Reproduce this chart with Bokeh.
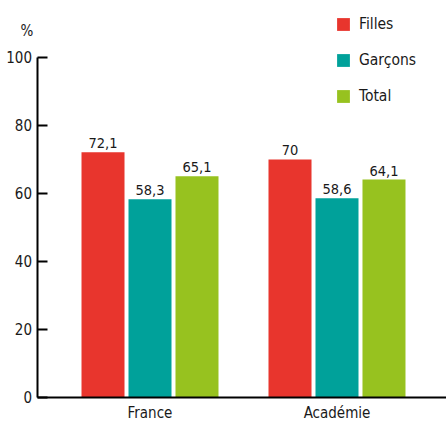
from bokeh.plotting import figure
from bokeh.models import Range1d, FixedTicker, Legend, LegendItem, ColumnDataSource
from bokeh.transform import dodge
from bokeh.core.properties import value
from bokeh.embed import file_html
from bokeh.resources import INLINE

categories = ["France", "Académie"]
series = ["Filles", "Garçons", "Total"]
filles = [72.1, 70.0]
garcons = [58.3, 58.6]
total = [65.1, 64.1]
colors = ["#E8352D", "#00A19A", "#97C21F"]
yticks = [0, 20, 40, 60, 80, 100]

FONT = "DejaVu Sans Condensed"
TXT = "#1a1a1a"

def fmt(v):
    return f"{v:g}".replace(".", ",")

idx = list(range(len(categories)))
src = ColumnDataSource(dict(
    x=idx,
    Filles=filles, Garçons=garcons, Total=total,
    Filles_lbl=[fmt(v) for v in filles],
    Garçons_lbl=[fmt(v) for v in garcons],
    Total_lbl=[fmt(v) for v in total],
))

X0, X1 = -0.7995, 1.5856
YAXIS_X = -0.599

p = figure(
    width=446, height=421,
    x_range=Range1d(X0, X1),
    y_range=Range1d(-7.06, 116.76),
    output_backend="svg", toolbar_location=None,
    min_border_left=0, min_border_right=0, min_border_top=0, min_border_bottom=0,
)
p.outline_line_color = None
p.xgrid.grid_line_color = None
p.ygrid.grid_line_color = None
p.background_fill_color = "white"
p.border_fill_color = "white"

offsets = [-0.2513, 0.0, 0.2513]
items = []
for name, col, off in zip(series, colors, offsets):
    r = p.vbar(x=dodge("x", off), top=name, bottom=0, width=0.23,
               source=src, fill_color=col, line_color=None)
    items.append(LegendItem(label=name, renderers=[r]))
    p.text(x=dodge("x", off), y=name, text=name + "_lbl", source=src,
           text_align="center", text_baseline="alphabetic", y_offset=-9,
           text_font=value(FONT), text_font_size="14.5px", text_color=TXT)

legend = Legend(items=items, location=(335, 316), orientation="vertical",
                glyph_width=16, glyph_height=16, label_height=16, spacing=18,
                padding=0, margin=0, label_standoff=8,
                label_text_font=FONT, label_text_font_size="15.5px", label_text_color=TXT,
                border_line_color=None, background_fill_alpha=0)
p.add_layout(legend, "center")

ya = p.yaxis[0]
ya.fixed_location = YAXIS_X
ya.bounds = (0, 100)
ya.ticker = FixedTicker(ticks=yticks)
ya.minor_tick_line_color = None
ya.major_tick_in = 10
ya.major_tick_out = 0
ya.major_tick_line_width = 2
ya.axis_line_width = 2
ya.major_label_standoff = 6
ya.major_label_text_font = FONT
ya.major_label_text_font_size = "15px"
ya.major_label_text_color = TXT

xa = p.xaxis[0]
xa.fixed_location = 0
xa.bounds = (YAXIS_X, X1)
xa.ticker = FixedTicker(ticks=idx)
xa.major_label_overrides = {i: c for i, c in zip(idx, categories)}
xa.major_tick_line_color = None
xa.minor_tick_line_color = None
xa.major_tick_out = 0
xa.major_tick_in = 0
xa.axis_line_width = 2
xa.major_label_standoff = 7
xa.major_label_text_font = FONT
xa.major_label_text_font_size = "15px"
xa.major_label_text_color = TXT

p.text(x=[-0.658], y=[107.8], text=["%"], text_align="center", text_baseline="middle",
       text_font=value(FONT), text_font_size="15px", text_color=TXT)

open("out.html", "w").write(file_html(p, INLINE))
